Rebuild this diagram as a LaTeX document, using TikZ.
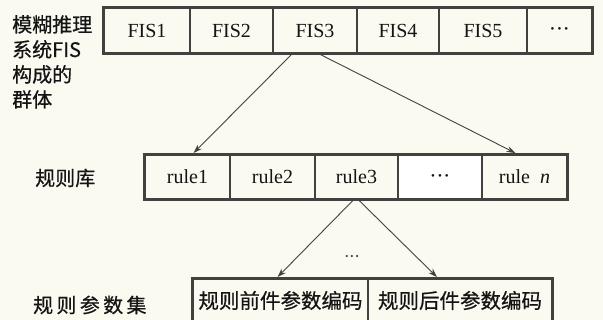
\documentclass[tikz,border=0pt]{standalone}
\usepackage{fontspec}
\setmainfont{Liberation Serif}
\newfontfamily\cjk[FakeBold=0.6]{Noto Sans CJK SC}
\usetikzlibrary{arrows.meta,calc}
\definecolor{bgc}{RGB}{251,250,241}
\definecolor{linec}{RGB}{65,65,63}
\definecolor{txtc}{RGB}{20,20,20}
\newcommand{\mydots}{{\fontsize{11}{11}\selectfont\textbullet\hspace{3pt}\textbullet\hspace{3pt}\textbullet}}
\tikzset{
  cell/.style={draw=linec, line width=1.8pt, inner sep=0pt, text=txtc, font=\fontsize{20}{24}\selectfont, fill=bgc},
  whitecell/.style={cell, fill=white},
  outerbox/.style={draw=linec, line width=2.8pt},
  arr/.style={draw=linec, line width=0.9pt, -{Stealth[length=9pt,width=6pt]}},
  lab/.style={text=txtc, inner sep=0pt, font=\cjk\fontsize{20}{25}\selectfont},
  pcell/.style={cell, font=\cjk\fontsize{20.5}{24}\selectfont}
}
\begin{document}
\begin{tikzpicture}[x=1pt,y=-1pt]
\useasboundingbox (0,0) rectangle (603,320);
\clip (0,0) rectangle (603,320);
\fill[bgc] (0,0) rectangle (603,320);
% labels
\node[lab, anchor=north west, align=left] (l1) at (12,15) {模糊推理\\系统FIS\\构成的\\群体};
\node[lab, anchor=west] (l2) at (35,178) {规则库};
\node[lab, anchor=west] (l3) at (33,305) {规\,则\,参\,数\,集};
% top row
\node[cell, minimum width=86pt, minimum height=45pt] (f1) at (147,30.5) {FIS1};
\node[cell, minimum width=83pt, minimum height=45pt] (f2) at (231.5,30.5) {FIS2};
\node[cell, minimum width=84pt, minimum height=45pt] (f3) at (315,30.5) {FIS3};
\node[cell, minimum width=82pt, minimum height=45pt] (f4) at (398,30.5) {FIS4};
\node[cell, minimum width=88pt, minimum height=45pt] (f5) at (483,30.5) {FIS5};
\node[cell, minimum width=65pt, minimum height=45pt] (f6) at (559.5,30.5) {\mydots};
\draw[outerbox] (f1.north west) rectangle (f6.south east);
% rule row
\node[cell, minimum width=85pt, minimum height=44pt] (r1) at (187.5,177) {rule1};
\node[cell, minimum width=85pt, minimum height=44pt] (r2) at (272.5,177) {rule2};
\node[cell, minimum width=83pt, minimum height=44pt] (r3) at (356.5,177) {rule3};
\node[whitecell, minimum width=84pt, minimum height=44pt] (r4) at (440,177) {\mydots};
\node[cell, minimum width=85pt, minimum height=44pt] (r5) at (524.5,177) {rule\enspace\textit{n}};
\draw[outerbox] (r1.north west) rectangle (r5.south east);
% parameter row
\node[pcell, minimum width=175pt, minimum height=43pt] (p1) at (280.5,300.5) {规则前件参数编码};
\node[pcell, minimum width=184pt, minimum height=43pt] (p2) at (460,300.5) {规则后件参数编码};
\draw[outerbox] (p1.north west) rectangle (p2.south east);
% connectors
\coordinate (a1) at ($(f3.south west)+(20,0)$);
\coordinate (a2) at ($(f3.south west)+(47,0)$);
\coordinate (b1) at ($(r1.north)+(6,-1)$);
\coordinate (b2) at ($(r5.north)+(-9,-1)$);
\coordinate (c1) at ($(r3.south)+(-3,0)$);
\coordinate (c2) at ($(r3.south)+(2,0)$);
\coordinate (d1) at ($(p1.north)+(-3,-1)$);
\coordinate (d2) at ($(p2.north)+(-23,-1)$);
\draw[arr] (a1) -- (b1);
\draw[arr] (a2) -- (b2);
\draw[arr] (c1) -- (d1);
\draw[arr] (c2) -- (d2);
\node[text=txtc!80, inner sep=0pt, font=\fontsize{9}{9}\selectfont] (dots) at (352,257) {\textbullet\hspace{2pt}\textbullet\hspace{2pt}\textbullet};
\end{tikzpicture}
\end{document}
